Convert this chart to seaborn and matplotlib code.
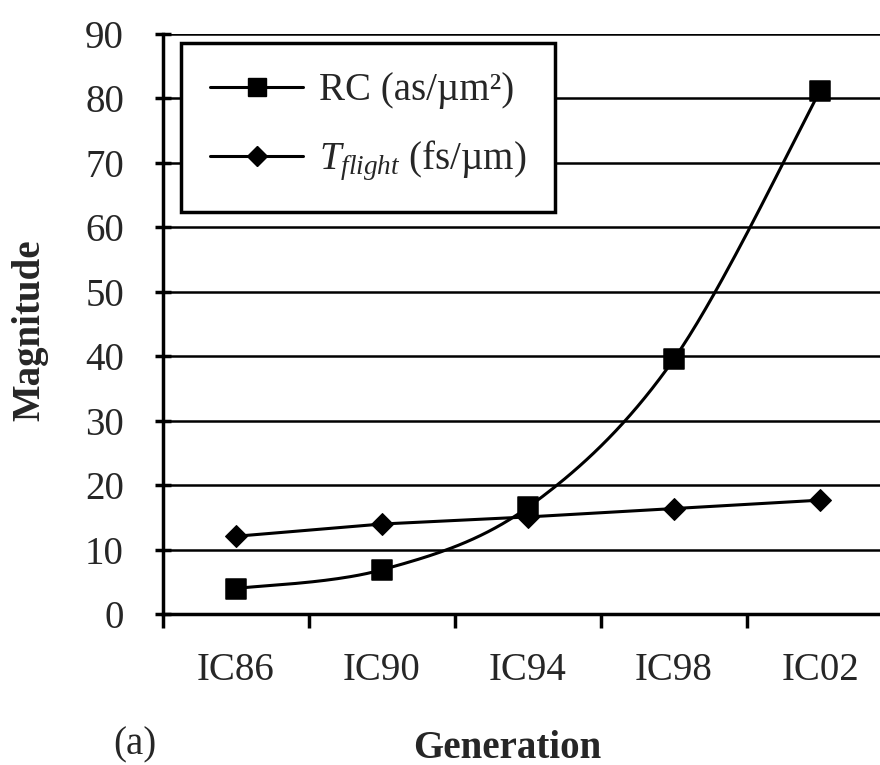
import numpy as np
import pandas as pd
import matplotlib
matplotlib.use("Agg")
import matplotlib.pyplot as plt
from matplotlib.lines import Line2D
import seaborn as sns

# data
generations = ["IC86", "IC90", "IC94", "IC98", "IC02"]
rc_values = [4.0, 6.9, 16.6, 39.6, 81.2]
tflight_values = [12.1, 14.0, 15.1, 16.4, 17.7]

sns.set_theme(style="white")
plt.rcParams["font.family"] = ["Liberation Serif", "DejaVu Serif"]
plt.rcParams["mathtext.fontset"] = "custom"
plt.rcParams["mathtext.rm"] = "Liberation Serif"
plt.rcParams["mathtext.it"] = "Liberation Serif:italic"

FS = 28


def smooth(xs, ys, n=40):
    # Catmull-Rom style smoothing like a spreadsheet "smoothed line"
    pts = np.column_stack([xs, ys]).astype(float)
    pts = np.vstack([pts[0], pts, pts[-1]])
    out = []
    for i in range(1, len(pts) - 2):
        p0, p1, p2, p3 = pts[i - 1], pts[i], pts[i + 1], pts[i + 2]
        for t in np.linspace(0, 1, n, endpoint=False):
            t2, t3 = t * t, t * t * t
            out.append(0.5 * ((2 * p1) + (-p0 + p2) * t
                              + (2 * p0 - 5 * p1 + 4 * p2 - p3) * t2
                              + (-p0 + 3 * p1 - 3 * p2 + p3) * t3))
    out.append(pts[-2])
    out = np.array(out)
    return out[:, 0], out[:, 1]


xpos = np.arange(len(generations))
df = pd.DataFrame({"x": xpos, "RC": rc_values, "Tflight": tflight_values})
sx, sy = smooth(xpos, rc_values)
curve = pd.DataFrame({"x": sx, "y": sy})

fig = plt.figure(figsize=(8.8, 7.65), dpi=100)
ax = fig.add_axes([0.185, 0.197, 0.815, 0.7586])

for v in range(10, 100, 10):
    ax.axhline(v, color="black", lw=1.8, zorder=1)

sns.lineplot(data=df, x="x", y="Tflight", ax=ax, color="black", lw=2.2,
             marker="D", markersize=11, markeredgecolor="black", zorder=3)
sns.lineplot(data=curve, x="x", y="y", ax=ax, color="black", lw=2.2,
             sort=False, estimator=None, zorder=3)
sns.scatterplot(data=df, x="x", y="RC", ax=ax, color="black", marker="s",
                s=190, edgecolor="black", zorder=4)

ax.set_xlim(-0.5, 4.41)
ax.set_ylim(0, 90)
ax.set_yticks(range(0, 100, 10))
ax.set_xticks(xpos)
ax.set_xticklabels(generations)
ax.set_xticks(np.arange(-0.5, 4.0, 1.0), minor=True)
ax.tick_params(axis="x", which="major", length=0, pad=27, labelsize=FS)
ax.tick_params(axis="x", which="minor", length=10, width=2.5,
               direction="out", color="black", bottom=True)
ax.tick_params(axis="y", which="major", length=12, width=2.5,
               direction="inout", color="black", left=True, pad=22,
               labelsize=FS)
for s in ["top", "right"]:
    ax.spines[s].set_visible(False)
for s in ["left", "bottom"]:
    ax.spines[s].set_color("black")
    ax.spines[s].set_linewidth(2.5)

ax.set_xlabel("")
ax.set_ylabel("")
fig.text(0.576, 0.022, "Generation", fontsize=FS, fontweight="bold",
         ha="center", va="center")
fig.text(0.034, 0.569, "Magnitude", fontsize=FS, fontweight="bold",
         ha="center", va="center", rotation=90)
fig.text(0.153, 0.026, "(a)", fontsize=FS, ha="center", va="center")

handles = [
    Line2D([], [], color="black", lw=2.2, marker="s", markersize=13),
    Line2D([], [], color="black", lw=2.2, marker="D", markersize=10),
]
labels = ["RC (as/\u00b5m\u00b2)", "$T_{flight}$ (fs/\u00b5m)"]
leg = ax.legend(handles, labels, loc="upper left",
                bbox_to_anchor=(0.025, 0.984), fontsize=FS, frameon=True,
                fancybox=False, edgecolor="black", framealpha=1,
                handlelength=2.4, handletextpad=0.4, borderpad=0.75,
                labelspacing=0.75, borderaxespad=0)
leg.get_frame().set_linewidth(2.5)
leg.set_zorder(5)

fig.savefig("out.png", dpi=100)
